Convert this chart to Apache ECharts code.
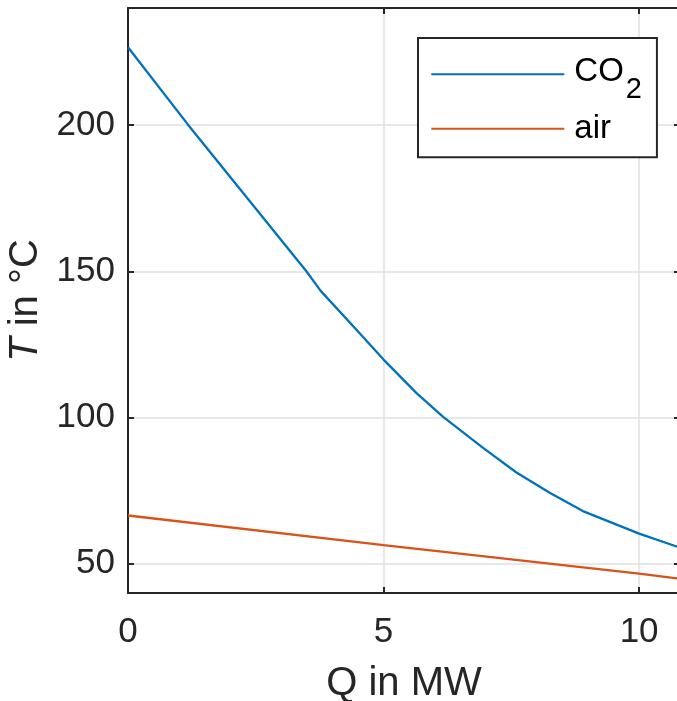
<!DOCTYPE html>
<html>
<head>
<meta charset="utf-8">
<script src="https://cdn.jsdelivr.net/npm/echarts@6/dist/echarts.min.js"></script>
<style>
  html, body { margin: 0; padding: 0; background: #ffffff; }
  #chart { width: 677px; height: 701px; }
</style>
</head>
<body>
<div id="chart"></div>
<script>
// Heat released Q (MW) vs. temperature T (°C) for both streams
const co2Q = [0, 1.17, 3.49, 3.77, 4.47, 5.0, 5.64, 6.16, 6.94, 7.60, 8.25, 8.90, 10.0, 10.8];
const co2T = [226.6, 200.2, 150, 143.3, 130.0, 119.8, 108.4, 100.3, 89.7, 81.2, 74.3, 68.0, 60.3, 55.5];
const airQ = [0, 5.0, 10.0, 10.8];
const airT = [66.5, 56.4, 46.6, 44.9];

const seriesNames = ['CO2', 'air'];
const xTicks = [0, 5, 10];
const yTicks = [50, 100, 150, 200];

const FONT = '"Liberation Sans", Arial, Helvetica, sans-serif';
const INK = '#262626';
const GRIDC = '#e1e1e1';

const toPairs = (xs, ys) => xs.map((x, i) => [x, ys[i]]);

// only the listed values get a label
const tickFmt = list => v => (list.indexOf(Math.round(v * 1000) / 1000) >= 0 ? String(v) : '');

const chart = echarts.init(document.getElementById('chart'), null, { renderer: 'canvas' });

const baseX = {
  type: 'value', min: 0, max: 10.8, interval: 5,
  axisLine: { show: true, onZero: false, lineStyle: { color: INK, width: 2 } },
  axisTick: { show: true, inside: true, length: 6, lineStyle: { color: INK, width: 2 } }
};
const baseY = {
  type: 'value', min: 40, max: 240, splitNumber: 4,
  axisLine: { show: true, onZero: false, lineStyle: { color: INK, width: 2 } },
  axisTick: { show: true, inside: true, length: 6, lineStyle: { color: INK, width: 2 } }
};

chart.setOption({
  animation: false,
  backgroundColor: '#ffffff',
  textStyle: { fontFamily: FONT },
  // the box runs a little past the right edge of the page
  grid: { left: 128, top: 8, width: 552, bottom: 108, containLabel: false, outerBoundsMode: 'none' },
  xAxis: [
    Object.assign({}, baseX, {
      position: 'bottom',
      name: 'Q in MW', nameLocation: 'middle', nameGap: 71,
      nameTextStyle: { fontFamily: FONT, fontSize: 40, color: INK },
      axisLabel: { show: true, margin: 22, fontSize: 35, color: INK, fontFamily: FONT,
                   showMaxLabel: false, formatter: tickFmt(xTicks) },
      splitLine: { show: true, lineStyle: { color: GRIDC, width: 1.5 } }
    }),
    Object.assign({}, baseX, {
      position: 'top',
      axisLabel: { show: false },
      splitLine: { show: false }
    })
  ],
  yAxis: [
    Object.assign({}, baseY, {
      position: 'left',
      name: '{i|T} in °C', nameLocation: 'middle', nameGap: 80,
      nameTextStyle: { fontFamily: FONT, fontSize: 40, color: INK,
                       rich: { i: { fontFamily: FONT, fontSize: 40, fontStyle: 'italic', color: INK } } },
      axisLabel: { show: true, margin: 13, fontSize: 35, color: INK, fontFamily: FONT,
                   showMinLabel: false, showMaxLabel: false, formatter: tickFmt(yTicks) },
      splitLine: { show: true, lineStyle: { color: GRIDC, width: 1.5 } }
    }),
    Object.assign({}, baseY, {
      position: 'right',
      axisLabel: { show: false },
      splitLine: { show: false }
    })
  ],
  legend: {
    data: seriesNames,
    orient: 'vertical',
    left: 418, top: 38,
    padding: [5.7, 15, 11.9, 13.3],
    icon: 'rect',
    itemWidth: 133, itemHeight: 2, itemGap: 7.6,
    backgroundColor: '#ffffff',
    borderColor: INK, borderWidth: 2, borderRadius: 0,
    selectedMode: false,
    formatter: name => (name === 'CO2' ? '{t|CO}{s|2}' : '{a|air}'),
    textStyle: {
      fontFamily: FONT, fontSize: 33, color: '#000000', padding: [0, 0, 0, 5],
      rich: {
        t: { fontFamily: FONT, fontSize: 33, color: '#000000', lineHeight: 30, padding: [0, 0, 4, 0] },
        s: { fontFamily: FONT, fontSize: 29, color: '#000000', lineHeight: 1, padding: [32, 0, 0, 2] },
        a: { fontFamily: FONT, fontSize: 33, color: '#000000', lineHeight: 30 }
      }
    }
  },
  series: [
    {
      name: seriesNames[0], type: 'line', data: toPairs(co2Q, co2T),
      xAxisIndex: 0, yAxisIndex: 0,
      symbol: 'none', smooth: false,
      lineStyle: { color: '#0072BD', width: 2.3 }, itemStyle: { color: '#0072BD' }
    },
    {
      name: seriesNames[1], type: 'line', data: toPairs(airQ, airT),
      xAxisIndex: 0, yAxisIndex: 0,
      symbol: 'none', smooth: false,
      lineStyle: { color: '#D95319', width: 2.3 }, itemStyle: { color: '#D95319' }
    }
  ]
});
</script>
</body>
</html>
